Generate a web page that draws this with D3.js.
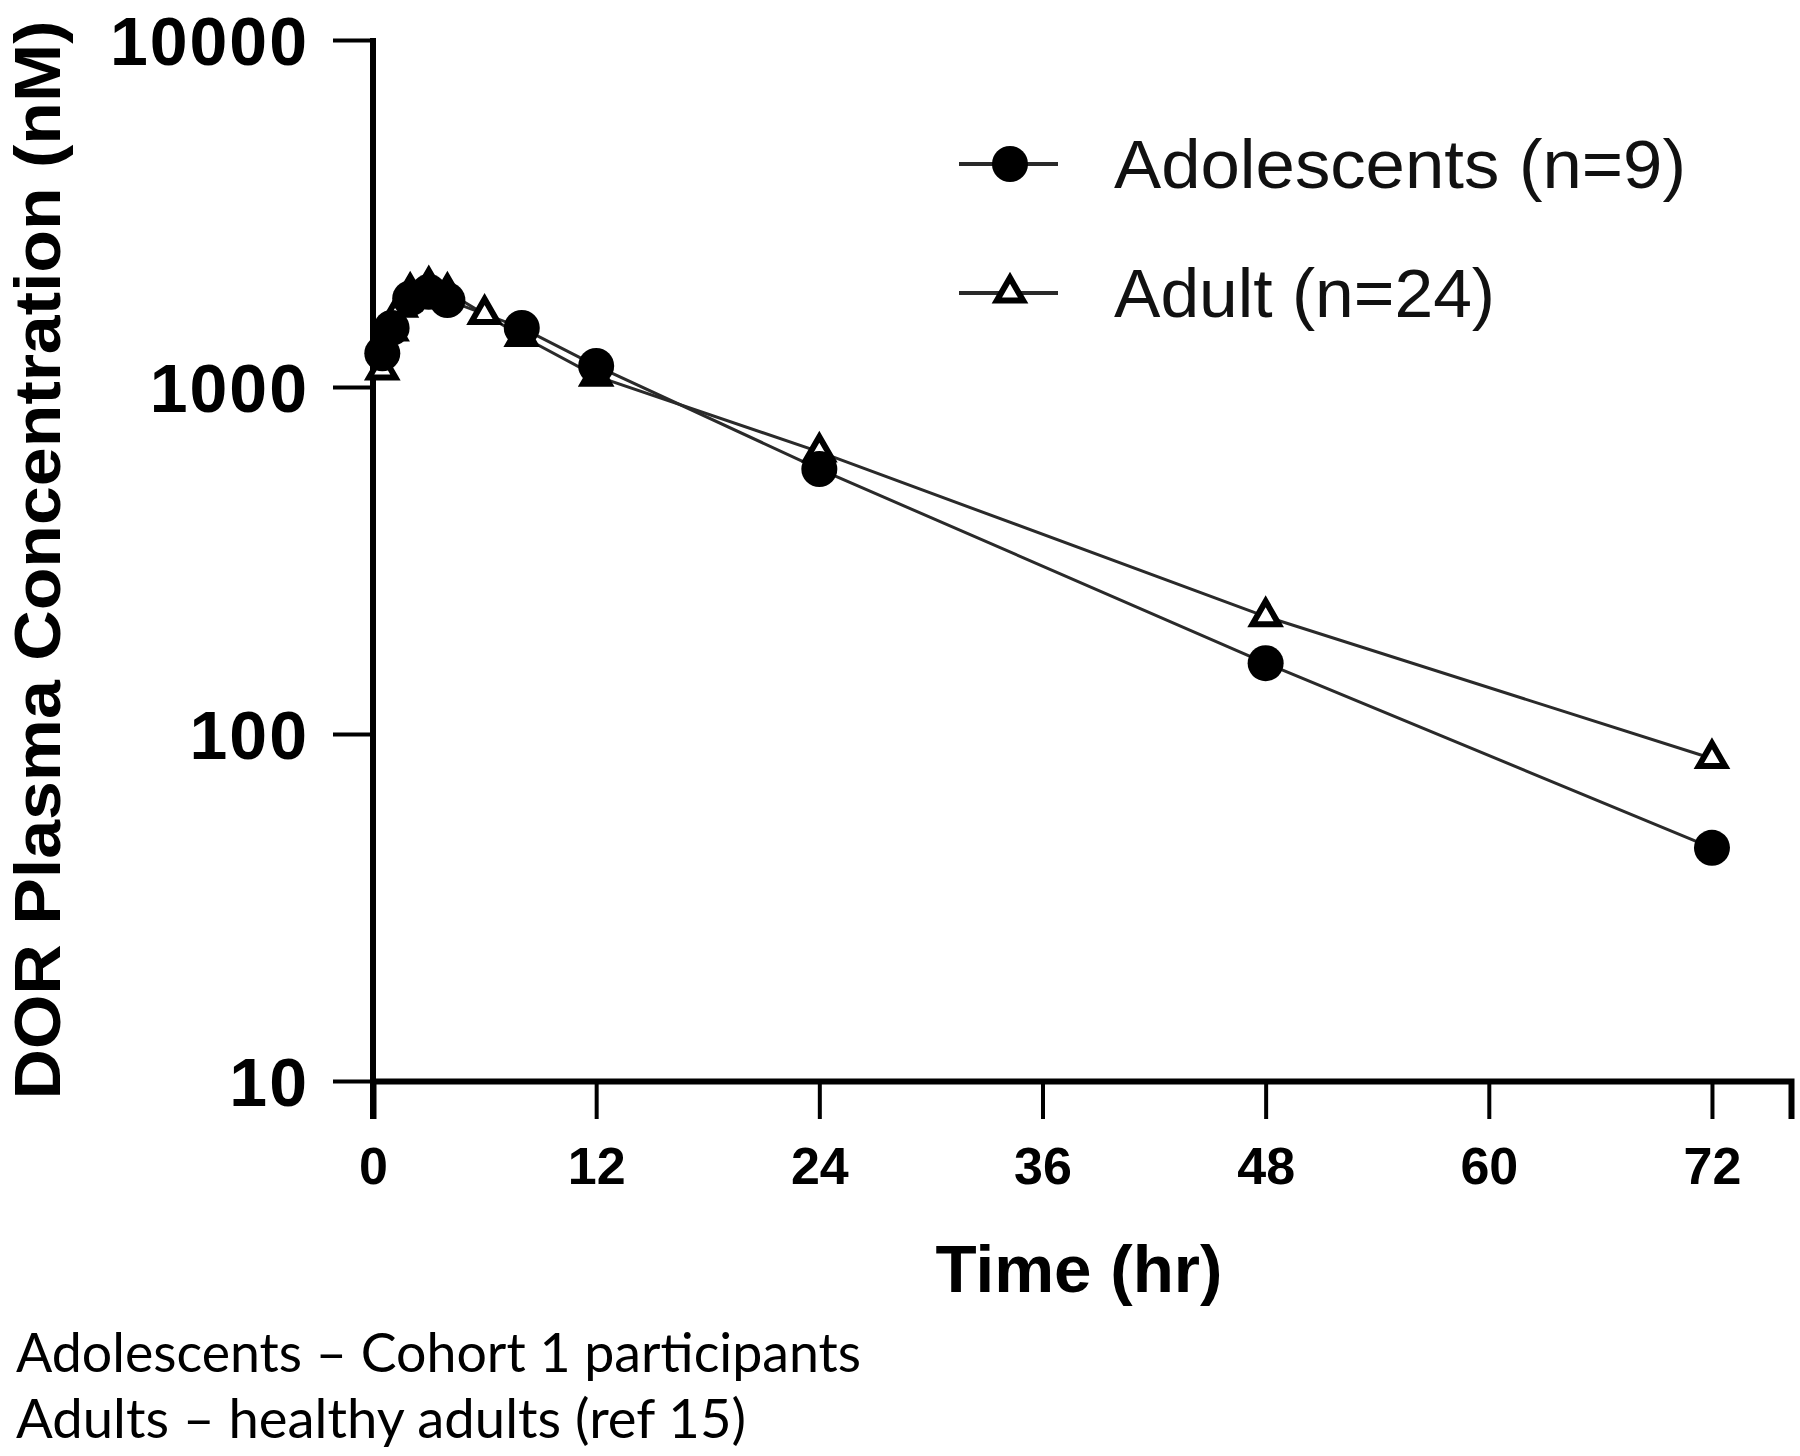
<!DOCTYPE html>
<html>
<head>
<meta charset="utf-8">
<script src="https://cdn.jsdelivr.net/npm/d3@7"></script>
<style>
  html, body { margin: 0; padding: 0; background: #fff; }
  svg { display: block; }
</style>
</head>
<body>
<div id="chart"></div>
<script>
// ---------- data ----------
const adolescentTimes  = [0.5, 1, 2, 3, 4, 8, 12, 24, 48, 72];
const adolescentValues = [1250, 1480, 1800, 1880, 1780, 1480, 1150, 580, 160, 47];

const adultTimes  = [0.5, 1, 1.5, 2, 3, 4, 6, 8, 12, 24, 48, 72];
const adultValues = [1120, 1450, 1700, 1880, 1960, 1880, 1620, 1400, 1075, 650, 218, 85];

const xTickValues = [0, 12, 24, 36, 48, 60, 72];
const yTickValues = [10, 100, 1000, 10000];

const seriesNames = ["Adolescents (n=9)", "Adult (n=24)"];
const yTitle = "DOR Plasma Concentration  (nM)";
const xTitle = "Time (hr)";
const notes = ["Adolescents \u2013 Cohort 1 participants", "Adults \u2013 healthy adults (ref 15)"];

// ---------- layout ----------
const W = 1800, H = 1456;
const svg = d3.select("#chart").append("svg").attr("width", W).attr("height", H);

const x = d3.scaleLinear().domain([0, 76.25]).range([373, 1791]);
const y = d3.scaleLog().domain([10, 10000]).range([1081, 40]);

const ink = "#000";
const lineInk = "#2a2a2a";

// axes
const xAxis = svg.append("g").attr("transform", `translate(0,${y(10)})`)
  .call(d3.axisBottom(x).tickValues(xTickValues).tickSize(38).tickPadding(28).tickFormat(d3.format("d")));
xAxis.select(".domain").attr("stroke", ink).attr("stroke-width", 6);
xAxis.selectAll(".tick line").attr("stroke", ink).attr("stroke-width", 4);
xAxis.selectAll(".tick text")
  .attr("fill", ink)
  .attr("font-family", "'Liberation Sans', Arial, sans-serif")
  .attr("font-weight", "bold")
  .attr("font-size", 52)
  .attr("dy", "0.71em");

const yAxis = svg.append("g").attr("transform", `translate(${x(0)},0)`)
  .call(d3.axisLeft(y).tickValues(yTickValues).tickSize(40).tickPadding(24).tickFormat(d3.format("d")));
yAxis.select(".domain").remove();
yAxis.selectAll(".tick line").attr("stroke", ink).attr("stroke-width", 4);
yAxis.selectAll(".tick text")
  .attr("fill", ink)
  .attr("font-family", "'Liberation Sans', Arial, sans-serif")
  .attr("font-weight", "bold")
  .attr("font-size", 68)
  .attr("letter-spacing", 2)
  .attr("dy", "0.36em");
// y axis spine, extending below x axis like the reference
svg.append("line")
  .attr("x1", x(0)).attr("x2", x(0))
  .attr("y1", y(10000) - 2).attr("y2", y(10) + 38)
  .attr("stroke", ink).attr("stroke-width", 6);

// lines
const line = d3.line().x(d => x(d[0])).y(d => y(d[1]));
const adultData = adultTimes.map((t, i) => [t, adultValues[i]]);
const adoData = adolescentTimes.map((t, i) => [t, adolescentValues[i]]);

svg.append("path").datum(adultData).attr("d", line)
  .attr("fill", "none").attr("stroke", lineInk).attr("stroke-width", 3);
svg.append("path").datum(adoData).attr("d", line)
  .attr("fill", "none").attr("stroke", lineInk).attr("stroke-width", 3);

const tri = d3.symbol(d3.symbolTriangle).size(300);

svg.append("g").selectAll("path").data(adultData).join("path")
  .attr("d", tri)
  .attr("transform", d => `translate(${x(d[0])},${y(d[1])})`)
  .attr("fill", "#fff").attr("stroke", ink).attr("stroke-width", 6).attr("stroke-linejoin", "miter");

svg.append("g").selectAll("circle").data(adoData).join("circle")
  .attr("cx", d => x(d[0])).attr("cy", d => y(d[1])).attr("r", 18)
  .attr("fill", ink);

// legend
const legend = svg.append("g");
const legY = [164, 293];
const legText = [572, 381];
legY.forEach((ly, i) => {
  legend.append("line").attr("x1", 959).attr("x2", 1058).attr("y1", ly).attr("y2", ly)
    .attr("stroke", lineInk).attr("stroke-width", 4);
  if (i === 0) {
    legend.append("circle").attr("cx", 1010).attr("cy", ly).attr("r", 18).attr("fill", ink);
  } else {
    legend.append("path").attr("d", tri).attr("transform", `translate(1010,${ly})`)
      .attr("fill", "#fff").attr("stroke", ink).attr("stroke-width", 6);
  }
  legend.append("text").attr("x", 1114).attr("y", ly + 24)
    .attr("font-family", "'Liberation Sans', Arial, sans-serif")
    .attr("font-size", 68).attr("fill", "#111")
    .attr("textLength", legText[i]).attr("lengthAdjust", "spacingAndGlyphs")
    .text(seriesNames[i]);
});

// axis titles
svg.append("text")
  .attr("transform", "translate(60,560) rotate(-90)")
  .attr("text-anchor", "middle")
  .attr("font-family", "'Liberation Sans', Arial, sans-serif")
  .attr("font-weight", "bold").attr("font-size", 64).attr("fill", ink)
  .attr("textLength", 1079).attr("lengthAdjust", "spacingAndGlyphs")
  .text(yTitle);

svg.append("text")
  .attr("x", 1079).attr("y", 1292)
  .attr("text-anchor", "middle")
  .attr("font-family", "'Liberation Sans', Arial, sans-serif")
  .attr("font-weight", "bold").attr("font-size", 66).attr("fill", ink)
  .attr("textLength", 287).attr("lengthAdjust", "spacingAndGlyphs")
  .text(xTitle);

// notes
const noteY = [1372, 1438];
const noteW = [845, 730];
notes.forEach((n, i) => {
  svg.append("text").attr("x", 16).attr("y", noteY[i])
    .attr("font-family", "Lato, 'Open Sans', sans-serif")
    .attr("font-size", 54).attr("fill", ink)
    .attr("textLength", noteW[i]).attr("lengthAdjust", "spacingAndGlyphs")
    .text(n);
});
</script>
</body>
</html>
